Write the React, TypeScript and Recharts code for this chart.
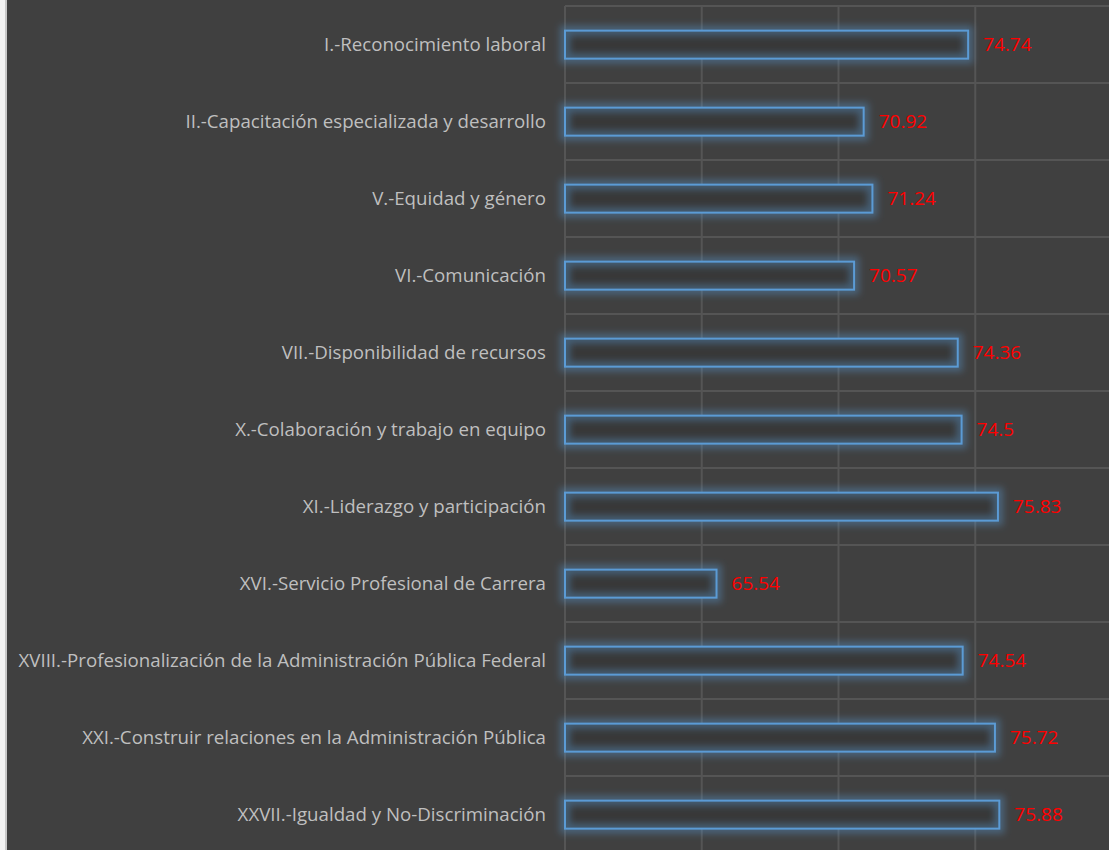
import { Bar, BarChart, CartesianGrid, LabelList, XAxis, YAxis } from "recharts";

const categories = [
  "I.-Reconocimiento laboral",
  "II.-Capacitación especializada y desarrollo",
  "V.-Equidad y género",
  "VI.-Comunicación",
  "VII.-Disponibilidad de recursos",
  "X.-Colaboración y trabajo en equipo",
  "XI.-Liderazgo y participación",
  "XVI.-Servicio Profesional de Carrera",
  "XVIII.-Profesionalización de la Administración Pública Federal",
  "XXI.-Construir relaciones en la Administración Pública",
  "XXVII.-Igualdad y No-Discriminación",
];

const scores = [74.74, 70.92, 71.24, 70.57, 74.36, 74.5, 75.83, 65.54, 74.54, 75.72, 75.88];

const xTicks = [60, 65, 70, 75, 80];

const data = categories.map((name, i) => ({ name, score: scores[i] }));

// grid rows sit between categories, not through their centres
const rowLines = ({ offset }: any) => {
  const step = offset.height / categories.length;
  return categories.map((_, i) => offset.top + i * step).concat(offset.top + offset.height);
};

const GlowBar = (props: any) => {
  const { x, y, width, height } = props;
  if (width == null || height == null) return null;
  return (
    <g>
      <rect x={x} y={y} width={width} height={height} fill="#383838" />
      <rect
        x={x}
        y={y}
        width={width}
        height={height}
        fill="none"
        stroke="#5b9bd5"
        strokeWidth={10}
        strokeOpacity={0.4}
        filter="url(#barGlow)"
      />
      <rect x={x} y={y} width={width} height={height} fill="none" stroke="#5b9bd5" strokeWidth={2} />
    </g>
  );
};

export default function App() {
  return (
    <div style={{ position: "fixed", left: 0, top: 0, width: 1109, height: 850, overflow: "hidden", background: "#f2f2f2" }}>
      <svg width={0} height={0} style={{ position: "absolute" }}>
        <defs>
          <filter id="barGlow" x="-10%" y="-70%" width="120%" height="240%">
            <feGaussianBlur stdDeviation={3.5} />
          </filter>
        </defs>
      </svg>
      <div
        style={{
          position: "absolute",
          left: 5,
          top: 0,
          width: 1104,
          height: 850,
          background: "#404040",
          borderLeft: "2px solid #c8c8c8",
        }}
      />
      <div style={{ position: "absolute", left: 0, top: 0 }}>
        <BarChart
          width={1112}
          height={860}
          data={data}
          layout="vertical"
          margin={{ top: 6, right: 0, bottom: 7, left: 0 }}
          barCategoryGap="32%"
          style={{ fontFamily: "'Open Sans', sans-serif" }}
        >
          <CartesianGrid
            stroke="#555555"
            strokeWidth={2}
            horizontalCoordinatesGenerator={rowLines}
          />
          <XAxis type="number" domain={[60, 80]} ticks={xTicks} hide />
          <YAxis
            type="category"
            dataKey="name"
            width={565}
            axisLine={false}
            tickLine={false}
            tickMargin={13}
            interval={0}
            tick={{ fill: "#bfbfbf", fontSize: 18.7 }}
          />
          <Bar dataKey="score" shape={<GlowBar />} isAnimationActive={false}>
            <LabelList dataKey="score" position="right" offset={15} fill="#ff0000" fontSize={19} />
          </Bar>
        </BarChart>
      </div>
    </div>
  );
}
